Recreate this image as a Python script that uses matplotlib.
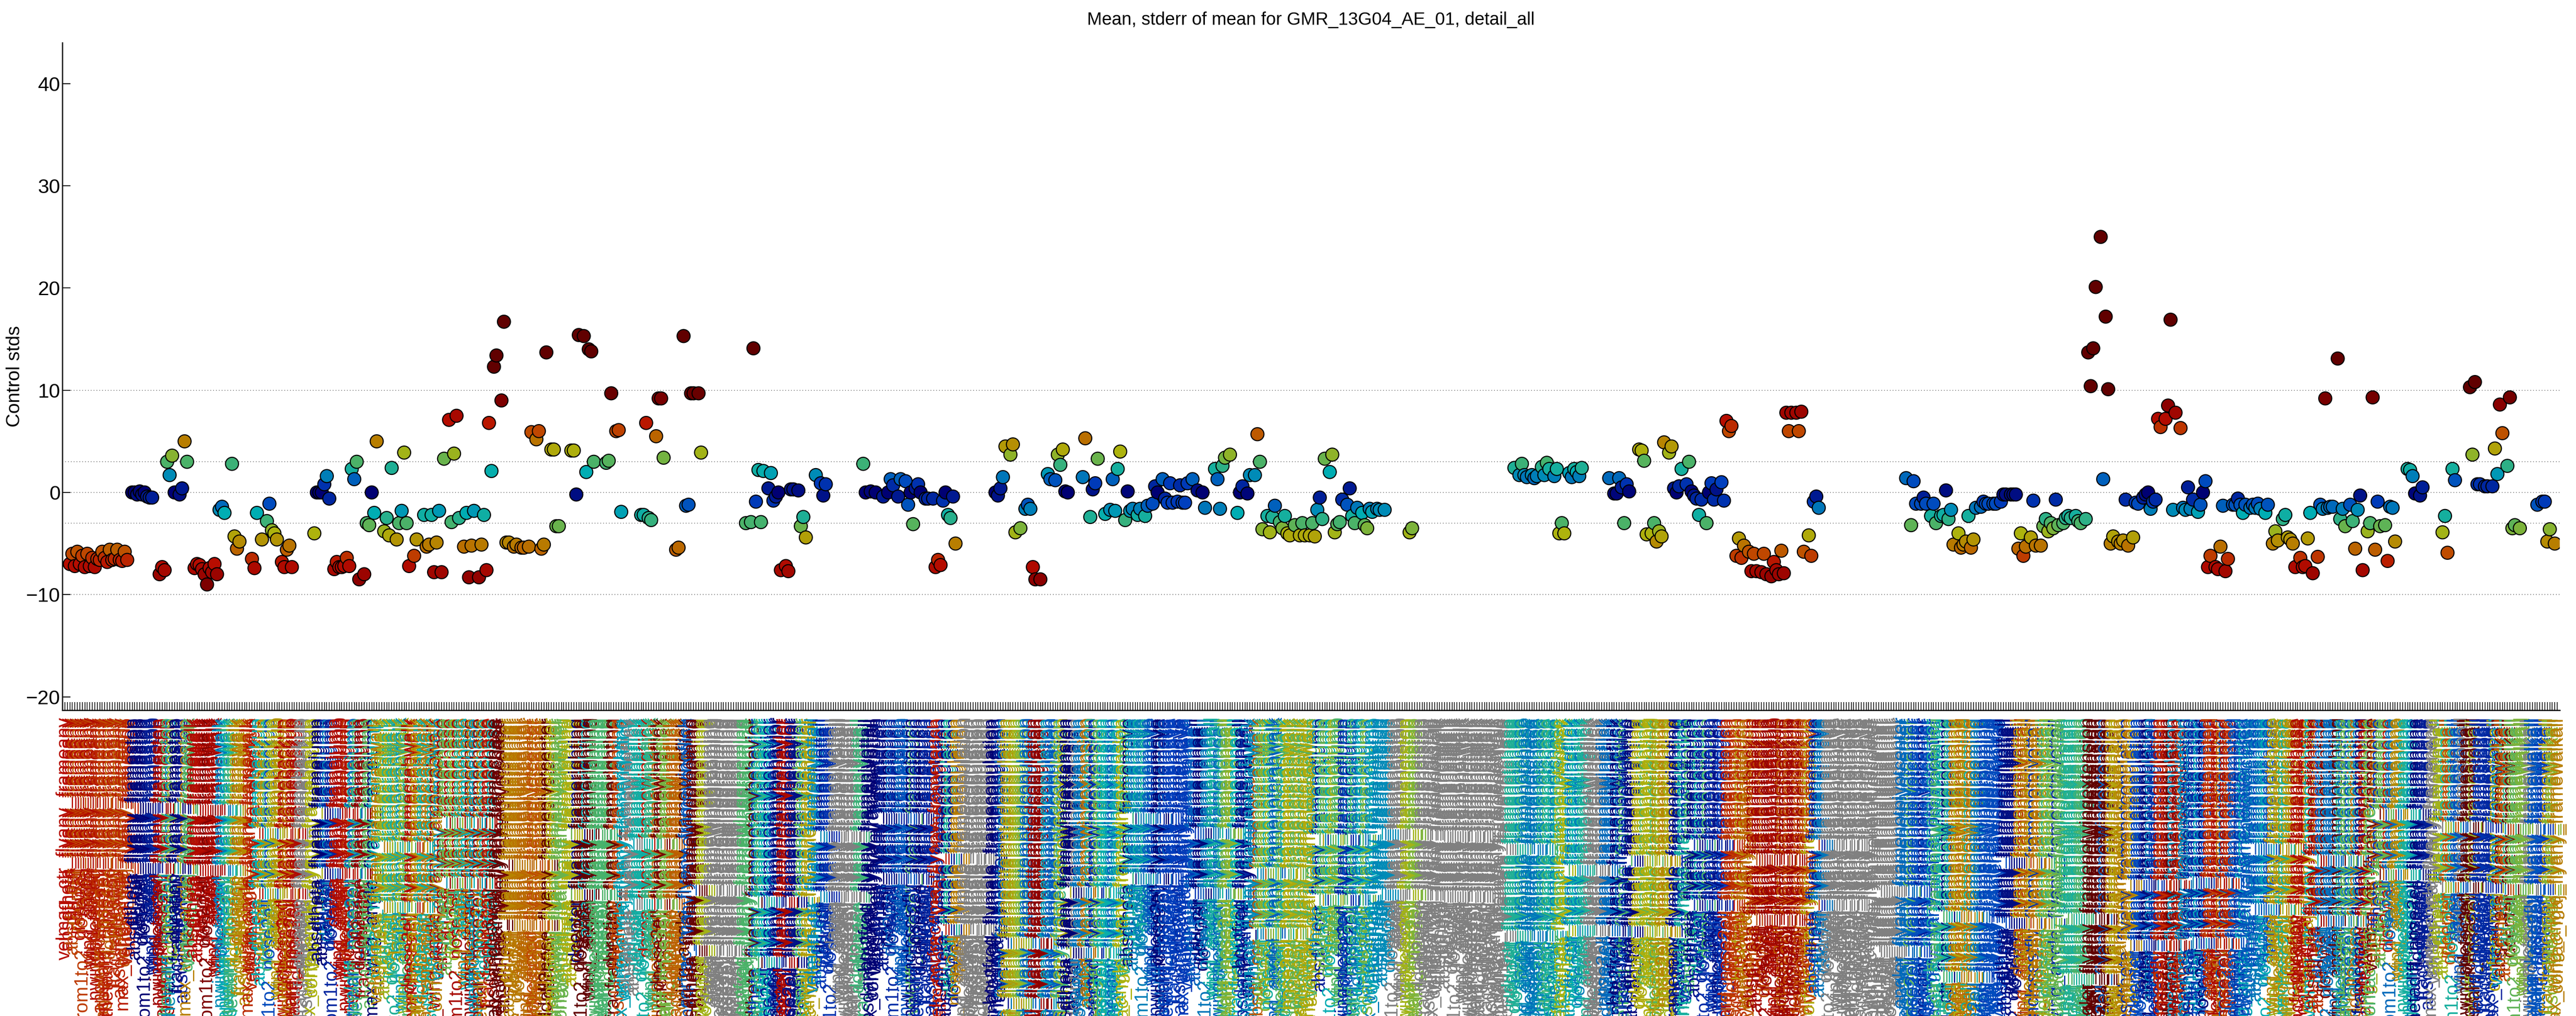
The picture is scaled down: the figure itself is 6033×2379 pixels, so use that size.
import matplotlib
matplotlib.use("Agg")
import matplotlib.pyplot as plt
from matplotlib.colors import LinearSegmentedColormap
import numpy as np

plt.rcParams['font.family'] = ['Liberation Sans', 'DejaVu Sans']

N_CATS = 1000

idx = [2,3,4,5,6,7,8,9,10,11,12,13,14,15,16,17,18,19,20,21,22,23,24,25,
 27,28,29,30,31,32,33,34,35,38,39,40,41,42,43,44,46,47,48,49,
 52,53,54,55,56,57,58,59,60,61,62,63,64,67,68,69,70,75,76,77,79,81,82,83,84,85,87,88,89,90,91,
 100,101,102,103,104,105,106,108,109,110,111,112,113,114,115,116,117,118,120,121,122,123,124,125,
 128,129,130,131,133,134,135,136,137,138,140,141,144,145,
 146,147,148,149,150,151,152,154,155,156,157,158,160,161,162,163,164,166,167,168,169,170,171,172,173,175,176,
 177,178,180,181,183,184,186,187,189,190,191,192,193,195,196,197,198,
 203,204,205,206,208,209,210,211,212,217,218,219,221,222,223,
 231,232,233,234,235,237,238,239,240,245,246,248,249,250,251,252,254,255,
 273,275,276,277,278,279,280,282,283,284,285,286,287,289,290,291,292,294,295,296,297,301,303,304,305,
 320,321,323,325,328,330,331,332,334,335,337,338,339,340,341,342,343,345,346,348,349,350,351,352,353,354,355,356,357,
 373,374,375,376,377,379,380,381,383,385,386,387,388,389,391,
 394,395,397,398,399,400,401,402,408,409,411,412,413,414,417,419,
 420,421,422,423,425,426,427,428,430,431,433,434,436,437,438,440,441,442,443,444,446,447,448,449,450,452,454,456,457,
 461,462,463,464,465,467,470,471,472,474,475,477,478,479,480,482,483,484,485,487,488,489,490,491,493,495,496,497,499,
 500,501,502,503,504,505,507,508,509,510,511,512,514,515,516,517,518,520,521,522,523,524,526,527,529,539,540,
 581,583,584,585,586,588,589,590,592,593,594,595,597,598,599,600,601,603,604,605,606,607,608,
 619,621,622,623,624,625,626,627,631,632,633,634,636,637,638,639,640,641,643,644,645,646,647,648,650,651,652,653,654,
 655,656,658,659,660,661,662,664,665,666,667,668,670,671,672,673,675,676,677,678,680,681,682,684,685,686,687,688,689,
 690,691,692,694,695,696,697,699,700,701,702,703,
 738,740,741,742,744,745,746,748,749,750,752,753,754,755,756,757,759,760,761,762,763,764,765,766,768,769,770,771,773,
 774,776,777,778,780,781,782,783,784,785,786,788,789,790,792,793,794,795,796,797,798,799,801,802,803,804,806,807,808,
 810,811,812,813,814,816,817,818,819,820,821,823,824,825,826,827,829,830,831,833,834,835,836,837,838,839,840,842,843,
 844,845,846,848,849,850,851,852,853,855,856,857,858,859,860,862,863,864,865,866,867,869,870,871,872,873,874,876,877,
 878,879,880,882,883,885,886,887,889,890,891,892,893,894,896,897,898,899,900,901,903,904,905,906,907,908,909,911,912,
 913,914,916,917,918,919,920,921,923,924,925,926,927,928,930,931,932,933,934,939,940,941,942,944,945,953,954,955,957,958,
 964,965,966,967,968,970,971,973,974,975,976,977,979,980,981,982,984,991,993,994,995,996,998]

mean = [-7,-6,-7.2,-5.8,-7,-6.2,-7.3,-6,-7.2,-6.4,-7.3,-6.5,-6.6,-5.8,-6.4,-6.8,-5.6,-6.6,-6.5,-5.6,-6.6,-6.7,-5.8,-6.6,
 0,0,-0.2,0.1,-0.2,0,-0.4,-0.5,-0.5,-8,-7.3,-7.6,3,1.7,3.6,0,-0.2,0.4,5,3,
 -7.4,-7,-7.1,-7.5,-8,-9,-7.4,-7.8,-7.0,-8,-1.7,-1.4,-2,2.8,-4.3,-5.5,-4.8,-6.5,-7.4,-2,-4.6,-2.8,-1.1,-3.7,-4,-4.6,-6.8,-7.3,-5.6,-5.2,-7.3,
 -4.0,0,0,0,0.8,1.6,-0.6,-7.5,-6.8,-7.3,-7.3,-7.2,-6.4,-7.2,2.3,1.3,3,-8.5,-8,-3,-3.2,0,-2,5,
 -3.8,-2.5,-4.2,2.4,-4.6,-3,-1.8,3.9,-3,-7.2,-6.2,-4.6,-2.2,-5.3,
 -5.1,-2.2,-7.8,-4.9,-1.8,-7.8,3.3,7.1,-2.9,3.8,7.5,-2.5,-5.3,-2,-8.3,-5.2,-1.8,-8.3,-5.1,-2.2,-7.6,6.8,2.1,12.3,13.4,9,16.7,
 -4.9,-4.9,-5.3,-5.1,-5.4,-5.4,-5.3,5.9,5.2,6.0,-5.5,-5.1,13.7,4.2,4.2,-3.3,-3.3,
 4.1,4.1,-0.2,15.4,15.3,2,14,13.8,3,2.9,3.1,9.7,6,6.1,-1.9,
 -2.2,-2.2,6.8,-2.5,-2.7,5.5,9.2,9.2,3.4,-5.6,-5.4,15.3,-1.3,-1.2,9.7,9.7,9.7,3.9,
 -3,-2.9,14.1,-0.9,2.2,-2.9,2.1,0.4,1.9,-0.8,-0.4,0,-7.6,-7.2,-7.7,0.3,0.3,0.2,-3.3,-2.4,-4.4,1.7,0.9,-0.3,0.8,
 2.8,0,0.1,0,-0.4,0,1.3,0.7,-0.4,1.3,1.1,-1.2,0,-3.1,0.4,0.8,0,-0.6,-0.6,-0.6,-7.3,-6.6,-7.1,-0.8,0,-2.2,-2.5,-0.4,-5,
 0,-0.3,0.4,1.5,4.5,3.7,4.7,-3.9,-3.5,-1.6,-1.2,-1.6,-7.3,-8.5,-8.5,
 1.8,1.3,1.2,3.7,2.7,4.2,0.1,0,1.5,5.3,-2.4,0.3,0.9,3.3,-2.1,-1.7,
 1.3,-1.8,2.3,4.0,-2.7,0.1,-1.8,-1.6,-2.2,-1.6,-2.3,-1.3,-1.1,0.6,0,1.3,-0.6,-1,0.9,-1,-0.9,0.7,-1,-1,0.9,1.3,0.2,0,-1.5,
 2.3,1.3,-1.6,2.6,3.4,3.7,-2,0,0.6,-0.1,1.7,1.7,5.7,3,-3.6,-2.3,-3.9,-2.4,-1.3,-2.9,-3.5,-2.3,-4,-4.2,-3.2,-4.2,-3,-4.2,-4.2,
 -3,-4.3,-1.7,-0.5,-2.6,3.3,2,3.7,-3.9,-3.1,-2.9,-0.7,-1.2,0.4,-2.3,-3,-1.5,-2,-3.2,-3.5,-1.6,-1.9,-1.6,-1.7,-1.7,-3.9,-3.5,
 2.4,1.7,2.8,1.7,1.5,1.7,1.4,1.6,2.5,1.7,2.9,2.3,1.6,2.3,-4,-3,-4,1.9,1.5,2.3,2,1.6,2.4,
 1.4,-0.1,-0.1,1.4,0.5,-3,0.8,0.1,4.2,4.1,3.1,-4.1,-4,-3,-4.8,-3.8,-4.3,4.9,3.9,4.5,0.4,0,0.6,2.3,0.8,3,0.1,-0.3,-0.6,
 -2.2,-0.7,-3,0,0.9,-0.7,0.3,1,-0.8,7,6,6.5,-6.2,-4.5,-6.4,-5.2,-5.8,-7.7,-6,-7.7,-7.8,-6,-8,-8.2,-6.8,-7.6,-8,-5.7,-7.9,
 7.8,6,7.8,7.8,6,7.9,-5.8,-4.2,-6.2,-0.9,-0.4,-1.5,
 1.4,-3.2,1.1,-1.1,-1.1,-0.5,-1.1,-2.3,-1.1,-3,-2.3,-2.2,0.2,-2.6,-1.7,-5.1,-4,-5.4,-5.1,-4.8,-2.3,-5.4,-4.6,-1.5,-1.4,-0.9,-1.1,-1.1,-1.1,
 -1.1,-0.9,-0.2,-0.2,-0.2,-0.2,-0.2,-5.5,-4,-6.2,-5.3,-4.4,-0.8,-5.2,-5.2,-3.3,-2.6,-3.8,-3,-3.5,-0.7,-3.2,-3,-2.5,-2.3,-2.5,-2.3,-2.8,-3,
 -2.6,13.7,10.4,14.1,20.1,25,1.3,17.2,10.1,-5,-4.3,-4.8,-5,-4.7,-0.7,-5.2,-4.4,-1,-1.1,-0.5,-0.2,0,-1.6,-0.9,-0.7,7.2,6.4,7.2,8.5,
 16.9,-1.7,7.8,6.3,-1.5,-1.7,0.5,-1.6,-0.7,-1.9,-1.2,0,1.1,-7.3,-6.2,-7.3,-7.5,-5.3,-1.3,-7.7,-6.5,-1.2,-1.2,-0.6,-1.2,-2,-1.2,-1.5,-1.2,
 -1.5,-1.1,-1.6,-2,-1.2,-5,-3.8,-4.7,-2.6,-2.2,-4.4,-4.6,-5,-7.3,-6.4,-7.3,-7.2,-4.5,-2,-7.9,-6.3,-1.2,-1.6,9.2,-1.5,-1.4,-1.4,13.1,-2.6,
 -1.6,-3.3,-1.2,-2.8,-5.5,-1.7,-0.3,-7.6,-3.8,-3,9.3,-5.6,-0.9,-3.3,-3.2,-6.7,-1.4,-1.5,-4.8,2.3,2.2,1.6,-0.1,-0.3,0.5,-3.9,-2.3,-5.9,2.3,1.2,
 10.3,3.7,10.8,0.8,0.8,0.6,0.6,0.6,4.3,1.8,8.6,5.8,2.6,9.3,-3.5,-3.2,-3.5,-1.2,-0.9,-0.9,-4.8,-3.6,-5]

feature_names = ["velmag_ctr", "absdtheta", "dtheta", "absdv_cor", "du_ctr", "dcenter", "dist2wall",
                 "absanglefrom1to2_nose2ell", "darea", "area", "wing_anglel", "wing_angler",
                 "nwingsdetected", "dnose2ell", "angleonclosestfly", "magveldiff_nose2ell",
                 "veltoward_nose2ell", "absthetadiff_nose2ell", "ddell2nose", "duration",
                 "fracframesany", "boutfreq", "absdangle2wall", "max_wing_angle", "corfrac_maj"]
behavior_names = ["flyany_frameany", "flyany_framestop", "flyany_framewalk", "flyany_framebackup",
                  "flyany_framejump", "flyany_framecrabwalk", "flyany_framechase", "flyany_framepivotcenter",
                  "flyany_framerighting", "flyany_framewingflick", "flyany_framewinggrooming",
                  "flyany_framenotanybehavior", "flyany_framepivottail", "flyany_frametouch",
                  "flymale_framecopulation", "flyany_frameattemptedcopulation", "flyany_framewingextension",
                  "flyany_framemove", "flyany_framenoneall", "flyany_framenotcrabwalk",
                  "flyany_framenotjump", "flyany_framenotstop", "flyany_framenotwalk",
                  "flyfemale_framenotchase", "flyany_framenotwingflick", "flymale_framenotrighting",
                  "flyany_framenottouch", "flyany_framenotbackup", "flyany_framenotmove",
                  "flyany_framenotpivotcenter", "flyany_framenotwinggrooming", "flyany_framenotpivottail",
                  "flyany_framenotwingextension", "flyany_framenotcopulation", "flyany_framenotattempted",
                  "flyany_framenotchase", "flyany_framenotrighting", "flyany_framenone", "flyany_framestopall",
                  "flyany_framewalkall"]

tick_labels = [f"{feature_names[i % len(feature_names)]}_{behavior_names[(i // len(feature_names)) % len(behavior_names)]}"
               for i in range(N_CATS)]

cmap = LinearSegmentedColormap.from_list("mag", [
    (0.0, (0.0, 0.0, 0.45)), (0.1, (0.0, 0.25, 0.75)), (0.2, (0.0, 0.68, 0.70)),
    (0.3, (0.30, 0.70, 0.40)), (0.4, (0.68, 0.70, 0.05)), (0.5, (0.72, 0.50, 0.0)),
    (0.6, (0.75, 0.28, 0.0)), (0.7, (0.72, 0.05, 0.0)), (0.85, (0.55, 0.0, 0.0)),
    (1.0, (0.38, 0.0, 0.0))])

fig = plt.figure(figsize=(60.33, 23.79), dpi=100)
ax = fig.add_axes([0.0242, 0.301, 0.9695, 0.657])

x = np.array(idx)
y = np.array(mean)
cols = cmap(np.clip(np.abs(y) / 10.0, 0, 1))

for g in [-10, -3, 0, 3, 10]:
    ax.axhline(g, color="0.35", ls=(0, (1, 3)), lw=1.2, zorder=0)

ax.scatter(x, y, s=22**2, c=cols, edgecolors="k", linewidths=1.8, zorder=3)

ax.set_xlim(-1, N_CATS)
ax.set_ylim(-21.3, 44)
ax.set_yticks([-20, -10, 0, 10, 20, 30, 40])
ax.tick_params(axis="y", labelsize=34, direction="in", length=14, width=1.5)
ax.set_xticks(np.arange(N_CATS))
ax.set_xticklabels(tick_labels, rotation=90, fontsize=32, va="top")
ax.tick_params(axis="x", direction="in", length=14, width=1.2, pad=12)
for s in ["top", "right"]:
    ax.spines[s].set_visible(False)
ax.spines["left"].set_linewidth(2)
ax.spines["bottom"].set_linewidth(2)

gray = (0.5, 0.5, 0.5)
for i, lab in enumerate(ax.get_xticklabels()):
    d = np.abs(x - i)
    j = np.argmin(d)
    lab.set_color(cols[j] if d[j] <= 2 else gray)

ax.set_ylabel("Control stds", fontsize=32)
ax.set_title("Mean, stderr of mean for GMR_13G04_AE_01, detail_all", fontsize=30, pad=30)

fig.savefig("out.png", dpi=100)
